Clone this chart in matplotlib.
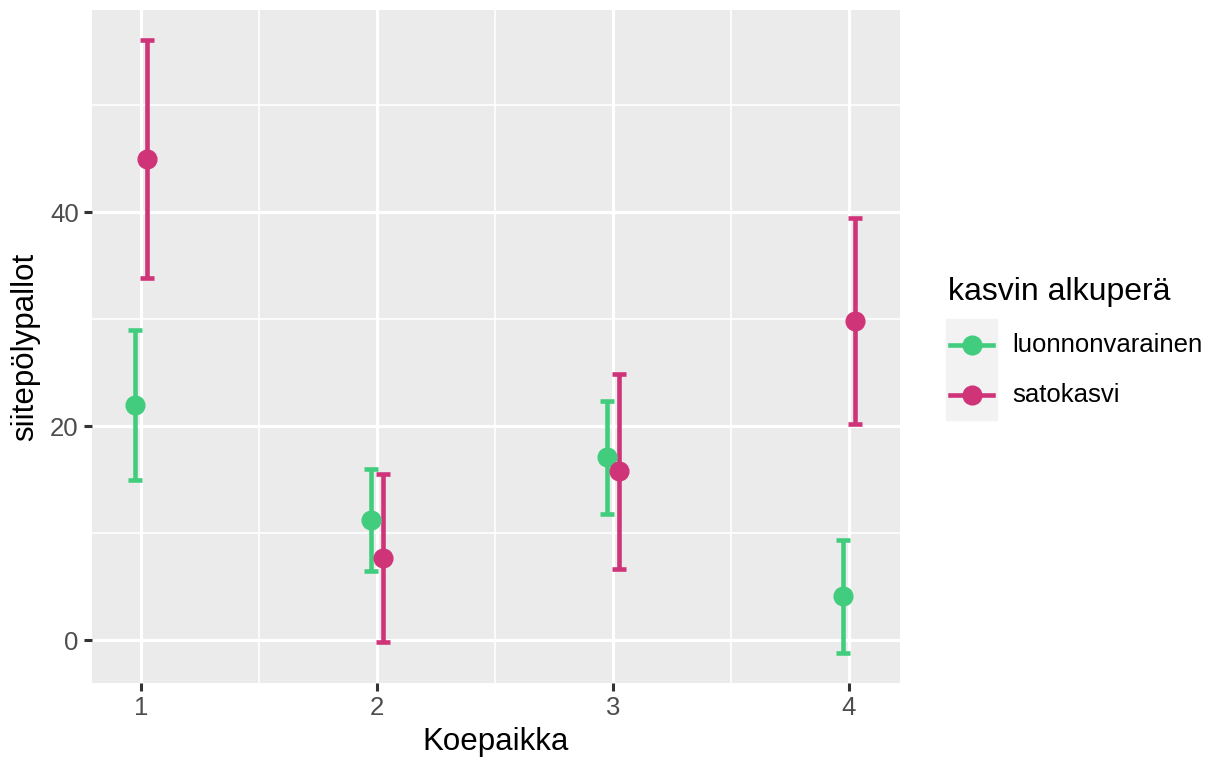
import matplotlib.pyplot as plt
from matplotlib.lines import Line2D
from matplotlib.patches import Rectangle
from matplotlib.ticker import MultipleLocator

plt.rcParams['font.family'] = ['Liberation Sans', 'DejaVu Sans']

# data
sites = [1, 2, 3, 4]
groups = ["luonnonvarainen", "satokasvi"]
colors = {"luonnonvarainen": "#41cd7d", "satokasvi": "#cf3479"}
means = {
    "luonnonvarainen": [21.96, 11.2, 17.1, 4.1],
    "satokasvi": [45.0, 7.7, 15.8, 29.85],
}
lower = {
    "luonnonvarainen": [14.95, 6.45, 11.8, -1.15],
    "satokasvi": [33.9, -0.12, 6.7, 20.25],
}
upper = {
    "luonnonvarainen": [29.0, 16.0, 22.4, 9.38],
    "satokasvi": [56.1, 15.55, 24.86, 39.5],
}
dodge = {"luonnonvarainen": -0.026, "satokasvi": 0.026}

fig = plt.figure(figsize=(12.12, 7.58), dpi=100)
ax = fig.add_axes([0.0759, 0.0989, 0.6667, 0.8879])
ax.set_facecolor("#EBEBEB")

for g in groups:
    xs = [s + dodge[g] for s in sites]
    m = means[g]
    err = [[a - lo for a, lo in zip(m, lower[g])],
           [hi - a for a, hi in zip(m, upper[g])]]
    ax.errorbar(xs, m, yerr=err, fmt="o", color=colors[g], ms=13.5,
                elinewidth=3.3, capsize=4.8, capthick=3.3, zorder=3)

ax.set_xlim(0.792, 4.216)
ax.set_ylim(-4.0, 58.9)
ax.xaxis.set_major_locator(MultipleLocator(1))
ax.xaxis.set_minor_locator(MultipleLocator(0.5))
ax.yaxis.set_major_locator(MultipleLocator(20))
ax.yaxis.set_minor_locator(MultipleLocator(10))
ax.grid(which="major", color="white", lw=2.3)
ax.grid(which="minor", color="white", lw=1.2)
ax.set_axisbelow(True)
for sp in ax.spines.values():
    sp.set_visible(False)
ax.tick_params(which="major", length=5.5, width=2.2, color="#333333",
               labelcolor="#4D4D4D", labelsize=18.5, pad=4)
ax.tick_params(which="minor", length=0)

ax.set_xlabel("Koepaikka", fontsize=22.5, labelpad=5)
ax.set_ylabel("siitepölypallot", fontsize=22.5, labelpad=7)

# legend
fig.patches.append(Rectangle((946 / 1212, 1 - 420 / 758), 51 / 1212, 101 / 758,
                             transform=fig.transFigure, color="#F2F2F2",
                             zorder=0))
fig.text(948 / 1212, 1 - 292 / 758, "kasvin alkuperä", fontsize=23,
         va="center", ha="left")
for i, g in enumerate(groups):
    yc = 1 - (345 + 50 * i) / 758
    fig.lines.append(Line2D([950 / 1212, 993 / 1212], [yc, yc],
                            transform=fig.transFigure, color=colors[g],
                            lw=3.3))
    fig.lines.append(Line2D([971.5 / 1212], [yc], transform=fig.transFigure,
                            color=colors[g], marker="o", ms=13.5))
    fig.text(1012 / 1212, yc, g, fontsize=18.5, va="center", ha="left")

fig.savefig("out.png", dpi=100)
